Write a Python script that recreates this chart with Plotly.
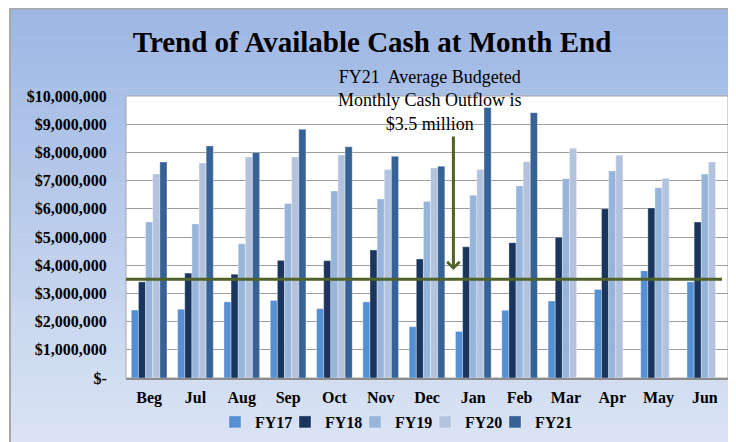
import plotly.graph_objects as go

# ---- data ----
months = ["Beg", "Jul", "Aug", "Sep", "Oct", "Nov", "Dec", "Jan", "Feb", "Mar", "Apr", "May", "Jun"]
fy17 = [2.41e6, 2.44e6, 2.70e6, 2.75e6, 2.46e6, 2.70e6, 1.82e6, 1.65e6, 2.40e6, 2.73e6, 3.14e6, 3.80e6, 3.41e6]
fy18 = [3.41e6, 3.72e6, 3.68e6, 4.17e6, 4.16e6, 4.54e6, 4.22e6, 4.65e6, 4.80e6, 4.99e6, 6.00e6, 6.03e6, 5.53e6]
fy19 = [5.53e6, 5.46e6, 4.76e6, 6.19e6, 6.63e6, 6.35e6, 6.26e6, 6.48e6, 6.81e6, 7.07e6, 7.34e6, 6.75e6, 7.23e6]
fy20 = [7.23e6, 7.62e6, 7.84e6, 7.84e6, 7.91e6, 7.39e6, 7.45e6, 7.39e6, 7.67e6, 8.15e6, 7.90e6, 7.08e6, 7.66e6]
fy21 = [7.66e6, 8.23e6, 8.00e6, 8.82e6, 8.20e6, 7.86e6, 7.51e6, 9.59e6, 9.41e6, None, None, None, None]
series_names = ["FY17", "FY18", "FY19", "FY20", "FY21"]
series_colors = ["#5590D5", "#1A365E", "#97B4DA", "#B4C3DD", "#366295"]
avg_outflow = 3.5e6
tick_vals = [i * 1e6 for i in range(11)]
tick_text = ["$-"] + ["${:,.0f}".format(v) for v in tick_vals[1:]]

FONT = "Liberation Serif"

fig = go.Figure()
for name, vals, col in zip(series_names, [fy17, fy18, fy19, fy20, fy21], series_colors):
    fig.add_trace(go.Bar(
        x=months, y=vals, name=name,
        marker=dict(color=col, line=dict(color="rgba(255,255,255,0.55)", width=0.6)),
    ))
# invisible spacer entry so the last legend label is not clipped
fig.add_trace(go.Scatter(x=[None], y=[None], mode="markers", name=" ",
                         marker=dict(color="rgba(0,0,0,0)"), hoverinfo="skip"))

# The page body has an 8px margin, so the figure starts at page (8, 8).
OFF = 8
FW, FH = 736 - OFF, 442 - OFF
# plot-area geometry in page pixels
L, R, T, B = 126, 728, 96, 378
W, H = R - L, B - T
def xp(px): return (px - L) / W
def yp(py): return (B - py) / H

shapes = []
# gradient background
n = 60
y_top, y_bot = 8, 446
c0 = (156, 182, 227)
c1 = (219, 228, 244)
for i in range(n):
    a = y_top + (y_bot - y_top) * i / n
    b = y_top + (y_bot - y_top) * (i + 1) / n
    t = (i + 0.5) / n
    c = tuple(round(c0[k] + (c1[k] - c0[k]) * t) for k in range(3))
    shapes.append(dict(type="rect", xref="paper", yref="paper", layer="below",
                       x0=xp(10), x1=xp(740), y0=yp(a), y1=yp(b + 0.5),
                       fillcolor="rgb(%d,%d,%d)" % c, line=dict(width=0)))
# frame
shapes.append(dict(type="line", xref="paper", yref="paper", layer="below",
                   x0=xp(9), x1=xp(740), y0=yp(8.5), y1=yp(8.5),
                   line=dict(color="#A8A8A8", width=2)))
shapes.append(dict(type="line", xref="paper", yref="paper", layer="below",
                   x0=xp(10), x1=xp(10), y0=yp(8), y1=yp(446),
                   line=dict(color="#A8A8A8", width=2)))
# white plot area
shapes.append(dict(type="rect", xref="paper", yref="paper", layer="below",
                   x0=0, x1=1, y0=0, y1=1, fillcolor="white",
                   line=dict(color="#A6A6A6", width=1)))
# average outflow line
shapes.append(dict(type="line", xref="paper", yref="y", layer="above",
                   x0=0, x1=xp(722), y0=avg_outflow, y1=avg_outflow,
                   line=dict(color="#4F6228", width=3)))

fig.update_layout(
    width=FW, height=FH,
    margin=dict(l=L - OFF, r=FW - (R - OFF), t=T - OFF, b=FH - (B - OFF), autoexpand=False),
    paper_bgcolor="white",
    plot_bgcolor="rgba(0,0,0,0)",
    barmode="group", bargap=0.23, bargroupgap=0,
    font=dict(family=FONT, color="black"),
    title=dict(text="Trend of Available Cash at Month End", x=(372 - OFF) / FW, xanchor="center",
               y=1 - (42 - OFF) / FH, yanchor="middle",
               font=dict(family=FONT, size=29, weight="bold", color="black")),
    shapes=shapes,
    xaxis=dict(automargin=False, showgrid=False, ticks="outside", ticklen=4,
               tickcolor="rgba(0,0,0,0)",
               tickfont=dict(family=FONT, size=16, weight="bold", color="black"),
               showline=True, linecolor="#8C8C8C", linewidth=1.5),
    yaxis=dict(automargin=False, range=[0, 1e7], tickvals=tick_vals, ticktext=tick_text,
               showgrid=True, gridcolor="#9C9C9C", gridwidth=1.2, zeroline=False,
               ticks="outside", ticklen=15, tickcolor="rgba(0,0,0,0)",
               tickfont=dict(family=FONT, size=16, weight="bold", color="black")),
    legend=dict(orientation="h", x=xp(215), xanchor="left", y=yp(422), yanchor="middle",
                font=dict(family=FONT, size=16, weight="bold", color="black"),
                bgcolor="rgba(0,0,0,0)", itemwidth=30, entrywidth=25, traceorder="normal",
                itemclick=False, itemdoubleclick=False),
    annotations=[
        dict(text="FY21  Average Budgeted<br>Monthly Cash Outflow is<br>$3.5 million",
             xref="paper", yref="paper", x=xp(430), y=yp(100), xanchor="center", yanchor="middle",
             showarrow=False, font=dict(family=FONT, size=18, color="black")),
        dict(x=6.57, y=3.83e6, ax=6.57, ay=8.62e6, xref="x", yref="y", axref="x", ayref="y",
             text="", showarrow=True, arrowhead=4, arrowsize=0.8, arrowwidth=3,
             arrowcolor="#4F6228"),
    ],
)

fig.write_html("out.html")
